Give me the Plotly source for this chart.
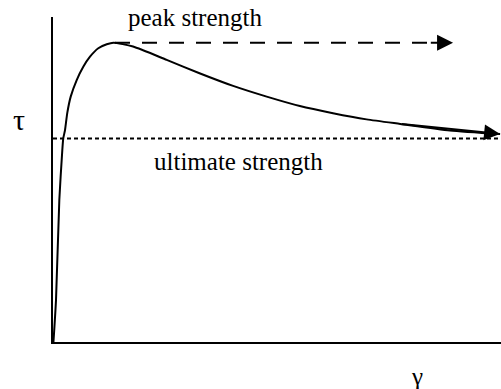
import plotly.graph_objects as go

# stress-strain curve (gamma, tau) in arbitrary units
gamma = [0.01, 0.067, 0.141, 0.208, 0.230, 0.268, 0.319, 0.395, 0.529, 0.676, 0.826,
         1.011, 1.199, 1.348, 1.786, 2.538, 3.27, 4.02, 4.77, 5.51, 6.25, 7.00, 7.75, 8.86, 9.98]
tau = [0.0, 1.29, 4.37, 5.91, 6.27, 6.52, 7.05, 7.55, 8.06, 8.47, 8.78,
       9.04, 9.16, 9.21, 9.09, 8.68, 8.27, 7.88, 7.55, 7.26, 7.04, 6.85, 6.71, 6.51, 6.40]

peak_tau = 9.21
peak_x = [1.384, 8.6]
peak_arrow_tip = 8.93
ult_tau = 6.26
ult_x = [0.0, 10.0]

labels = {"peak": "peak strength", "ult": "ultimate strength", "y": "τ", "x": "γ"}

FONT = "Liberation Serif, Times New Roman, serif"
FS = 25

fig = go.Figure()
fig.add_trace(go.Scatter(x=gamma, y=tau, mode="lines",
                         line=dict(color="black", width=2, shape="spline", smoothing=0.6),
                         cliponaxis=False, hoverinfo="skip"))
fig.add_trace(go.Scatter(x=peak_x, y=[peak_tau, peak_tau], mode="lines",
                         line=dict(color="black", width=2, dash="15px,12px"),
                         hoverinfo="skip"))
fig.add_trace(go.Scatter(x=ult_x, y=[ult_tau, ult_tau], mode="lines",
                         line=dict(color="black", width=2, dash="4px,3px"),
                         cliponaxis=False, hoverinfo="skip"))

ann = []
ann.append(dict(x=gamma[-1], y=tau[-1], ax=gamma[-3], ay=tau[-3], xref="x", yref="y",
                axref="x", ayref="y", showarrow=True, arrowhead=2, arrowsize=1.6,
                arrowwidth=2, arrowcolor="black", text=""))
ann.append(dict(x=peak_arrow_tip, y=peak_tau, ax=peak_x[1] - 0.2, ay=peak_tau, xref="x", yref="y",
                axref="x", ayref="y", showarrow=True, arrowhead=2, arrowsize=1.6,
                arrowwidth=2, arrowcolor="black", text=""))
ann.append(dict(x=0.318, y=0.997, xref="paper", yref="paper", text=labels["peak"], showarrow=False,
                font=dict(family=FONT, size=FS, color="black"), xanchor="center", yanchor="middle"))
ann.append(dict(x=0.415, y=0.554, xref="paper", yref="paper", text=labels["ult"], showarrow=False,
                font=dict(family=FONT, size=FS, color="black"), xanchor="center", yanchor="middle"))
ann.append(dict(x=-0.077, y=0.686, xref="paper", yref="paper", text=labels["y"], showarrow=False,
                font=dict(family=FONT, size=30, color="black"), xanchor="center", yanchor="middle"))
ann.append(dict(x=0.8125, y=-0.105, xref="paper", yref="paper", text=labels["x"], showarrow=False,
                font=dict(family=FONT, size=FS, color="black"), xanchor="center", yanchor="middle"))

fig.update_layout(
    width=501, height=389,
    margin=dict(l=53, r=0, t=17, b=47),
    paper_bgcolor="white", plot_bgcolor="white",
    showlegend=False,
    annotations=ann,
    xaxis=dict(range=[0, 10], showgrid=False, zeroline=False, showticklabels=False,
               ticks="", showline=True, linecolor="black", linewidth=2),
    yaxis=dict(range=[0, 10], showgrid=False, zeroline=False, showticklabels=False,
               ticks="", showline=True, linecolor="black", linewidth=2),
)

fig.write_html("out.html", config={"displayModeBar": False},
               post_script="document.body.style.margin='0';")
